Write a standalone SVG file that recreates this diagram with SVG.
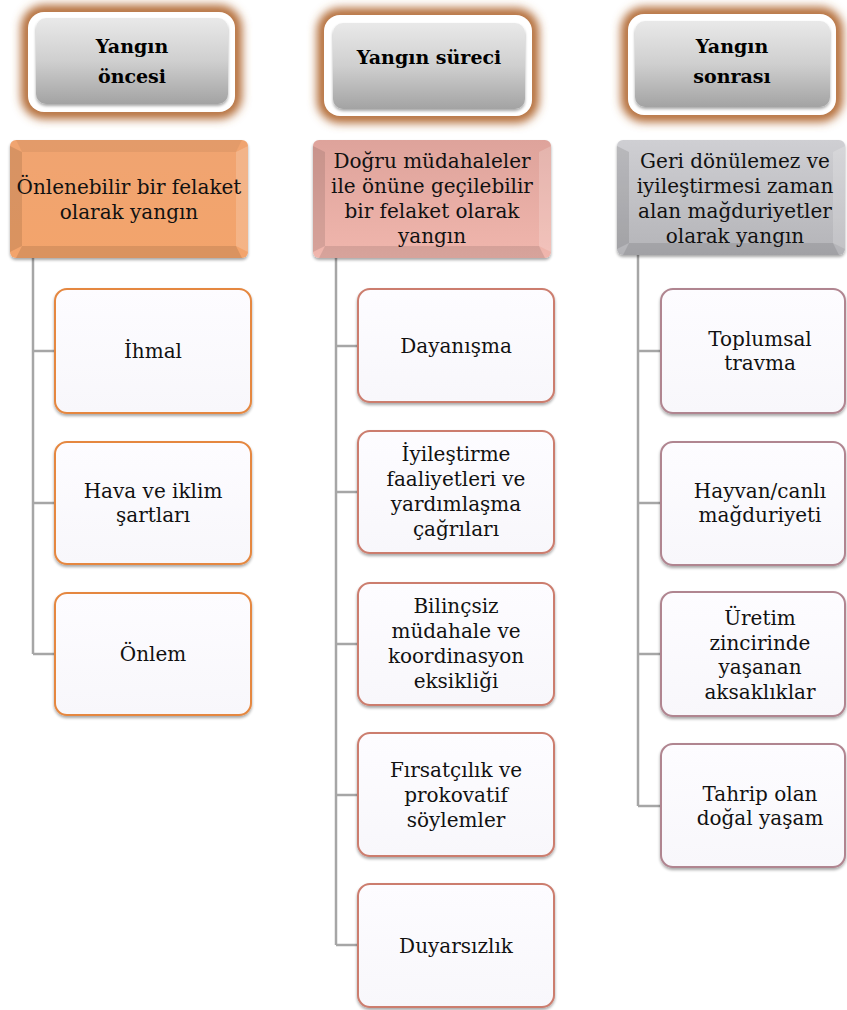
<svg xmlns="http://www.w3.org/2000/svg" width="847" height="1010" viewBox="0 0 847 1010">
<defs>
<style>
.hd{font-family:"DejaVu Serif","Liberation Serif",serif;font-weight:bold;font-size:19px;fill:#000;text-anchor:middle}
.tx{font-family:"DejaVu Serif","Liberation Serif",serif;font-size:20px;fill:#111;text-anchor:middle}
.con{fill:none;stroke:#a6a6a6;stroke-width:2.5}
.glow{fill:none;stroke:#b26a34;stroke-width:14;filter:url(#blur)}
.white{fill:#fff}
.gray{fill:url(#gHead)}
.child{fill:url(#gChild);stroke-width:2}
.c1{stroke:#e5873f}
.c2{stroke:#cc7d6e}
.c3{stroke:#b08590}
.bevL{fill:#000;opacity:0.05}
.bevD{fill:#000;opacity:0.1}
.bevH{fill:#fff;opacity:0.18}
</style>
<filter id="blur" x="-20%" y="-30%" width="140%" height="160%"><feGaussianBlur stdDeviation="5"/></filter>
<filter id="sh" x="-10%" y="-10%" width="120%" height="125%"><feGaussianBlur in="SourceAlpha" stdDeviation="1.5"/><feOffset dx="0" dy="1.5"/><feComponentTransfer><feFuncA type="linear" slope="0.35"/></feComponentTransfer><feMerge><feMergeNode/><feMergeNode in="SourceGraphic"/></feMerge></filter>
<linearGradient id="gHead" x1="0" y1="0" x2="0" y2="1"><stop offset="0" stop-color="#e9e9e9"/><stop offset="0.5" stop-color="#cfcfcf"/><stop offset="1" stop-color="#a3a3a3"/></linearGradient>
<linearGradient id="gChild" x1="0" y1="0" x2="0" y2="1"><stop offset="0" stop-color="#fdfcff"/><stop offset="1" stop-color="#f8f7fb"/></linearGradient>
<linearGradient id="gL1" x1="0" y1="0" x2="0" y2="1"><stop offset="0" stop-color="#f0a470"/><stop offset="1" stop-color="#f3a46c"/></linearGradient>
<linearGradient id="gL2" x1="0" y1="0" x2="0" y2="1"><stop offset="0" stop-color="#dea39b"/><stop offset="1" stop-color="#f0b6ad"/></linearGradient>
<linearGradient id="gL3" x1="0" y1="0" x2="0" y2="1"><stop offset="0" stop-color="#cfcfd3"/><stop offset="1" stop-color="#b4b4b8"/></linearGradient>
</defs>
<rect width="847" height="1010" fill="#fff"/>

<g id="connectors">
<path class="con" d="M33 258 V654 M33 351 H55 M33 503 H55 M33 654 H55"/>
<path class="con" d="M336 258 V945 M336 346 H358 M336 492 H358 M336 644 H358 M336 795 H358 M336 945 H358"/>
<path class="con" d="M638 255 V806 M638 351 H661 M638 503 H661 M638 654 H661 M638 806 H661"/>
</g>

<g id="head1">
<rect class="glow" x="28" y="12" width="207" height="100" rx="16"/>
<rect class="white" x="28" y="12" width="207" height="100" rx="16"/>
<rect class="gray" x="36" y="18" width="192" height="86" rx="10" filter="url(#sh)"/>
<text class="hd" x="132" y="53">Yangın</text>
<text class="hd" x="132" y="83">öncesi</text>
</g>
<g id="head2">
<rect class="glow" x="324" y="15" width="208" height="101" rx="16"/>
<rect class="white" x="324" y="15" width="208" height="101" rx="16"/>
<rect class="gray" x="333" y="23" width="192" height="86" rx="10" filter="url(#sh)"/>
<text class="hd" x="429" y="64">Yangın süreci</text>
</g>
<g id="head3">
<rect class="glow" x="628" y="14" width="208" height="101" rx="16"/>
<rect class="white" x="628" y="14" width="208" height="101" rx="16"/>
<rect class="gray" x="635" y="21" width="195" height="86" rx="10" filter="url(#sh)"/>
<text class="hd" x="732" y="53">Yangın</text>
<text class="hd" x="732" y="83">sonrası</text>
</g>

<g id="lvl1a" filter="url(#sh)">
<rect x="10" y="140" width="238" height="118" rx="6" fill="url(#gL1)"/>
<polygon class="bevD" points="10,146 22,152 22,246 10,252"/>
<polygon class="bevL" points="16,140 242,140 236,152 22,152"/>
<polygon class="bevH" points="248,146 248,252 236,246 236,152"/>
<polygon class="bevD" points="22,246 236,246 242,258 16,258"/>
</g>
<text class="tx" x="129" y="194">Önlenebilir bir felaket</text>
<text class="tx" x="129" y="219">olarak yangın</text>

<g id="lvl1b" filter="url(#sh)">
<rect x="313" y="140" width="238" height="118" rx="6" fill="url(#gL2)"/>
<polygon class="bevD" points="313,146 325,152 325,246 313,252"/>
<polygon class="bevH" points="551,146 551,252 539,246 539,152"/>
<polygon class="bevD" points="325,246 539,246 545,258 319,258"/>
</g>
<text class="tx" x="432" y="168">Doğru müdahaleler</text>
<text class="tx" x="432" y="193">ile önüne geçilebilir</text>
<text class="tx" x="432" y="218">bir felaket olarak</text>
<text class="tx" x="432" y="243">yangın</text>

<g id="lvl1c" filter="url(#sh)">
<rect x="617" y="140" width="228" height="115" rx="6" fill="url(#gL3)"/>
<polygon class="bevD" points="617,146 629,152 629,243 617,249"/>
<polygon class="bevH" points="845,146 845,249 833,243 833,152"/>
<polygon class="bevD" points="629,243 833,243 839,255 623,255"/>
</g>
<text class="tx" x="735" y="168">Geri dönülemez ve</text>
<text class="tx" x="735" y="193">iyileştirmesi zaman</text>
<text class="tx" x="735" y="218">alan mağduriyetler</text>
<text class="tx" x="735" y="243">olarak yangın</text>

<g id="n_ihmal"><rect class="child c1" x="55" y="289" width="196" height="124" rx="12" filter="url(#sh)"/><text class="tx" x="153" y="358">İhmal</text></g>
<g id="n_hava"><rect class="child c1" x="55" y="442" width="196" height="122" rx="12" filter="url(#sh)"/><text class="tx" x="153" y="498">Hava ve iklim</text><text class="tx" x="153" y="522">şartları</text></g>
<g id="n_onlem"><rect class="child c1" x="55" y="593" width="196" height="122" rx="12" filter="url(#sh)"/><text class="tx" x="153" y="661">Önlem</text></g>

<g id="n_dayanisma"><rect class="child c2" x="358" y="289" width="196" height="113" rx="12" filter="url(#sh)"/><text class="tx" x="456" y="353">Dayanışma</text></g>
<g id="n_iyilestirme"><rect class="child c2" x="358" y="431" width="196" height="122" rx="12" filter="url(#sh)"/><text class="tx" x="456" y="461">İyileştirme</text><text class="tx" x="456" y="486">faaliyetleri ve</text><text class="tx" x="456" y="511">yardımlaşma</text><text class="tx" x="456" y="536">çağrıları</text></g>
<g id="n_bilincsiz"><rect class="child c2" x="358" y="583" width="196" height="122" rx="12" filter="url(#sh)"/><text class="tx" x="456" y="613">Bilinçsiz</text><text class="tx" x="456" y="638">müdahale ve</text><text class="tx" x="456" y="663">koordinasyon</text><text class="tx" x="456" y="688">eksikliği</text></g>
<g id="n_firsatcilik"><rect class="child c2" x="358" y="733" width="196" height="123" rx="12" filter="url(#sh)"/><text class="tx" x="456" y="777">Fırsatçılık ve</text><text class="tx" x="456" y="802">prokovatif</text><text class="tx" x="456" y="827">söylemler</text></g>
<g id="n_duyarsizlik"><rect class="child c2" x="358" y="884" width="196" height="123" rx="12" filter="url(#sh)"/><text class="tx" x="456" y="953">Duyarsızlık</text></g>

<g id="n_toplumsal"><rect class="child c3" x="661" y="289" width="184" height="124" rx="12" filter="url(#sh)"/><text class="tx" x="760" y="346">Toplumsal</text><text class="tx" x="760" y="370">travma</text></g>
<g id="n_hayvan"><rect class="child c3" x="661" y="442" width="184" height="123" rx="12" filter="url(#sh)"/><text class="tx" x="760" y="498">Hayvan/canlı</text><text class="tx" x="760" y="522">mağduriyeti</text></g>
<g id="n_uretim"><rect class="child c3" x="661" y="592" width="184" height="124" rx="12" filter="url(#sh)"/><text class="tx" x="760" y="625">Üretim</text><text class="tx" x="760" y="650">zincirinde</text><text class="tx" x="760" y="674">yaşanan</text><text class="tx" x="760" y="699">aksaklıklar</text></g>
<g id="n_tahrip"><rect class="child c3" x="661" y="744" width="184" height="123" rx="12" filter="url(#sh)"/><text class="tx" x="760" y="801">Tahrip olan</text><text class="tx" x="760" y="825">doğal yaşam</text></g>
</svg>
